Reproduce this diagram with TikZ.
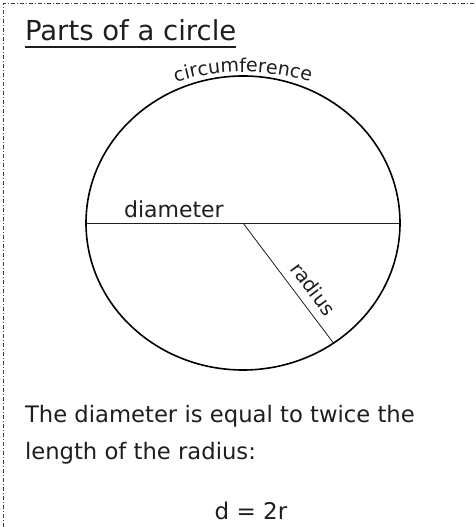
\documentclass[tikz,border=0pt]{standalone}
\usepackage{fontspec}
\setmainfont{DejaVu Sans}
\usetikzlibrary{positioning,shapes.geometric,decorations.text}

\begin{document}
\begin{tikzpicture}[x=1pt,y=1pt]
  % colors close to the figure
  \definecolor{inkgray}{RGB}{30,30,30}
  \definecolor{framegray}{RGB}{60,60,60}

  % parameters
  \def\cx{243}    % centre of the circle
  \def\cy{304}
  \def\rx{157}    % half width
  \def\ry{147}    % half height

  \tikzset{
    label/.style={inkgray, inner sep=0pt, outer sep=0pt},
    thinline/.style={line width=0.8pt, inkgray},
  }

  \useasboundingbox (0,0) rectangle (475,527);

  % frame (only top and left show)
  \draw[framegray, line width=1pt, dash pattern=on 4pt off 2pt on 1pt off 2pt]
    (3.5,0) -- (3.5,523.5) -- (475,523.5);

  % title
  \node[label, anchor=base west, font=\fontsize{27.5}{31}\selectfont] (title) at (25,486) {Parts of a circle};
  \draw[line width=1.6pt, inkgray] (title.south west |- 0,480) -- (title.south east |- 0,480);

  % the circle
  \node[draw, ellipse, line width=1.6pt, outer sep=0pt, inner sep=0pt,
        minimum width=2*\rx, minimum height=2*\ry] (circ) at (\cx,\cy) {};

  % diameter and radius
  \draw[thinline] (circ.west) -- (circ.east)
    node[label, pos=0.28, above=5pt, font=\fontsize{22}{25}\selectfont] (dia) {diameter};
  \draw[thinline] (circ.center) -- (circ.-53)
    node[label, pos=0.63, sloped, above=9pt, font=\fontsize{19.5}{22}\selectfont] (rad) {radius};

  % circumference along the top
  \path[decorate, decoration={text along path, text align=center,
        text={|\fontsize{19}{22}\selectfont\color{inkgray}|circumference}}]
    (\cx,225) ++(112:230) arc[start angle=112, end angle=68, radius=230pt];

  % text below
  \node[label, anchor=base west, font=\fontsize{22.7}{26}\selectfont] (line1) at (25,104) {The diameter is equal to twice the};
  \node[label, anchor=base west, font=\fontsize{22.7}{26}\selectfont] (line2) at (25,67) {length of the radius:};
  \node[label, anchor=base, font=\fontsize{23}{27}\selectfont] (eq) at (251,8) {d = 2r};
\end{tikzpicture}
\end{document}
